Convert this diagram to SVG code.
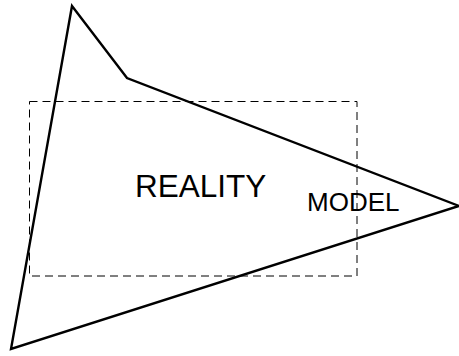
<svg xmlns="http://www.w3.org/2000/svg" width="459" height="356" viewBox="0 0 459 356">
<style>
.t{font-family:"Liberation Sans",Arial,sans-serif;fill:#000}
</style>
<rect width="459" height="356" fill="#fff"/>
<g id="reality">
<polygon points="72,6 127,78 459,206 11,349" fill="none" stroke="#000" stroke-width="2.4" stroke-linejoin="miter"/>
<text class="t" x="135" y="197" font-size="31.5">REALITY</text>
</g>
<g id="model">
<rect x="29.5" y="101.5" width="327.5" height="174.5" fill="none" stroke="#000" stroke-width="1" stroke-dasharray="8,5"/>
<text class="t" x="307" y="211" font-size="26">MODEL</text>
</g>
<g id="connectors"/>
</svg>
